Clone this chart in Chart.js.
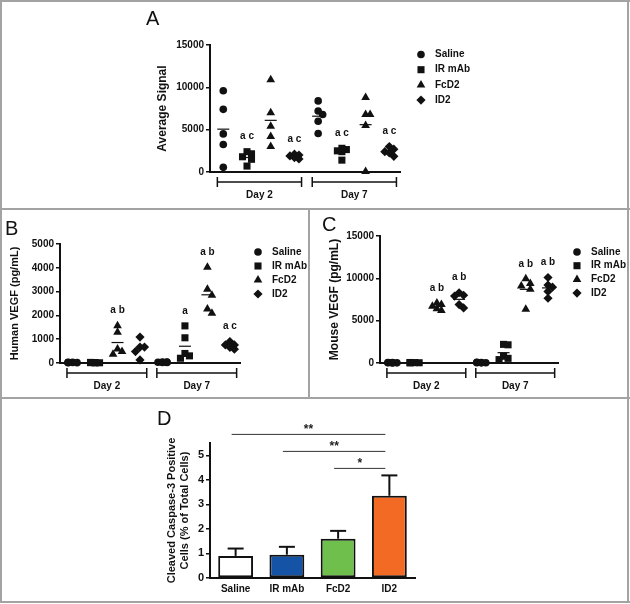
<!DOCTYPE html>
<html lang="en">
<head>
<meta charset="UTF-8" />
<title>VEGF and cleaved caspase-3 panels</title>
<script src="https://cdn.jsdelivr.net/npm/chart.js"></script>
<style>
  body { margin: 0; background: #fff; }
  #fig { position: relative; width: 630px; height: 604px; overflow: hidden; background: #fff; }
  #fig canvas { position: absolute; left: 0; top: 0; }
  .rule { position: absolute; background: #a3a3a3; }
  .tag { position: absolute; font: 20px 'Liberation Sans', Arial, sans-serif; color: #111; line-height: 1; }
</style>
</head>
<body>
<div id="fig">
  <!-- panel frame -->
  <div class="rule" style="left:0;top:0;width:630px;height:2px"></div>
  <div class="rule" style="left:0;top:601px;width:630px;height:2px"></div>
  <div class="rule" style="left:0;top:0;width:2px;height:603px"></div>
  <div class="rule" style="left:627px;top:0;width:2px;height:603px"></div>
  <div class="rule" style="left:0;top:208px;width:630px;height:2px"></div>
  <div class="rule" style="left:308px;top:208px;width:2px;height:191px"></div>
  <div class="rule" style="left:0;top:397px;width:630px;height:2px"></div>

  <canvas id="chartA" width="630" height="604"></canvas>
  <canvas id="chartB" width="630" height="604"></canvas>
  <canvas id="chartC" width="630" height="604"></canvas>
  <canvas id="chartD" width="630" height="604"></canvas>

  <div class="tag" style="left:146px;top:8px">A</div>
  <div class="tag" style="left:5px;top:218px">B</div>
  <div class="tag" style="left:322px;top:214px">C</div>
  <div class="tag" style="left:157px;top:408px">D</div>
</div>

<script>
// ---- data ----
const groupLabels = ['Day 2', 'Day 7'];
const seriesNames = ['Saline', 'IR mAb', 'FcD2', 'ID2'];

// panel A, average signal: [Day 2 values, Day 7 values]
const aSaline = [[9600, 7400, 4500, 3250, 550], [8400, 7200, 6800, 6000, 4550]];
const aIrMab  = [[2400, 2150, 1800, 1500, 700], [2800, 2650, 2500, 2400, 1400]];
const aFcD2   = [[10900, 7000, 5400, 4200, 3000], [8800, 6800, 6800, 5500, 50]];
const aId2    = [[2100, 2000, 1900, 1700, 1550], [3000, 2700, 2400, 2250, 1850]];
const aLetters = [['', ''], ['a c', 'a c'], ['', ''], ['a c', 'a c']];

// panel B, human VEGF (pg/mL)
const bSaline = [[25, 15, 30, 10, 20], [40, 25, 30, 20, 35]];
const bIrMab  = [[20, 10, 25, 15, 5], [1560, 1060, 400, 300, 200]];
const bFcD2   = [[1570, 1290, 590, 480, 370], [4020, 3100, 2850, 2270, 2090]];
const bId2    = [[1090, 670, 670, 480, 130], [900, 760, 760, 660, 580]];
const bLetters = [['', ''], ['', 'a'], ['a b', 'a b'], ['', 'a c']];

// panel C, mouse VEGF (pg/mL)
const cSaline = [[40, 20, 60, 30, 10], [60, 30, 80, 40, 20]];
const cIrMab  = [[50, 30, 60, 20, 40], [2200, 2150, 800, 550, 400]];
const cFcD2   = [[7100, 6900, 6700, 6400, 6200], [9950, 9400, 9100, 8700, 6350]];
const cId2    = [[8300, 8000, 7900, 6900, 6500], [10100, 9200, 8950, 8450, 7650]];
const cLetters = [['', ''], ['', ''], ['a b', 'a b'], ['a b', 'a b']];

// panel D, cleaved caspase-3 positive cells (% of total)
const dLabels = ['Saline', 'IR mAb', 'FcD2', 'ID2'];
const dMeans  = [0.9, 0.95, 1.6, 3.35];
const dErrors = [0.3, 0.32, 0.32, 0.83];
const dSigPairs = [[0, 3], [1, 3], [2, 3]];
const dSigMarks = ['**', '**', '*'];

// ---- styling ----
const INK = '#111';
const FONT = "'Liberation Sans', Arial, sans-serif";
const barColors = ['#ffffff', '#1553a6', '#6fbf4c', '#f26a24'];
const markerStyles = ['circle', 'rect', 'triangle', 'rectRot'];
const markerRadius = [3.8, 5, 5, 4.6];
const X_MIN = -0.56, X_MAX = 7.45;

Chart.defaults.font.family = FONT;
Chart.defaults.font.weight = 'bold';
Chart.defaults.color = INK;
Chart.defaults.animation = false;

function slot(s, g) { return g * 4 + s; }   // x position of series s in group g

function drawMarker(ctx, s, x, y) {
  ctx.fillStyle = INK;
  Chart.helpers.drawPoint(ctx, { pointStyle: markerStyles[s], radius: markerRadius[s], rotation: 0, borderWidth: 0 }, x, y);
}

// spread points with close values a little sideways, like a scatter dot plot
function swarm(vals, pxPerY, pxPerX) {
  const tries = [0, 4.5, -4.5];
  const placed = [];
  return vals.map(v => {
    const py = v * pxPerY;
    let best = 0, bestD = -1;
    for (const dx of tries) {
      const d = Math.min(Infinity, ...placed.map(p => Math.hypot(p.dx - dx, p.py - py)));
      if (d >= 6) { best = dx; break; }
      if (d > bestD) { bestD = d; best = dx; }
    }
    placed.push({ dx: best, py });
    return best / pxPerX;
  });
}

function line(ctx, x0, y0, x1, y1) {
  ctx.beginPath(); ctx.moveTo(x0, y0); ctx.lineTo(x1, y1); ctx.stroke();
}

function buildScatter(id, cfg) {
  const box = cfg.box;
  const pxPerY = (box.bottom - box.top) / cfg.yMax;
  const pxPerX = (box.right - box.left) / (X_MAX - X_MIN);
  const titleLH = cfg.titleSize * 1.2;
  const yWidth = box.left - cfg.titleX + titleLH / 2;

  const datasets = seriesNames.map((name, s) => {
    const pts = [];
    cfg.series[s].forEach((vals, g) => {
      const offs = swarm(vals, pxPerY, pxPerX);
      vals.forEach((v, i) => pts.push({ x: slot(s, g) + offs[i], y: v }));
    });
    return {
      label: name, data: pts, clip: false,
      pointStyle: markerStyles[s], pointRadius: markerRadius[s],
      pointBackgroundColor: INK, pointBorderWidth: 0
    };
  });

  const decor = {
    id: 'decor' + id,
    afterDatasetsDraw(chart) {
      const { ctx, chartArea, scales: { x, y } } = chart;
      ctx.save();
      ctx.strokeStyle = INK;
      ctx.fillStyle = INK;
      ctx.font = 'bold 10px ' + FONT;
      ctx.textAlign = 'center';
      ctx.textBaseline = 'middle';

      // mean lines and significance letters
      cfg.series.forEach((groups, s) => groups.forEach((vals, g) => {
        const cx = x.getPixelForValue(slot(s, g));
        const mean = vals.reduce((a, b) => a + b, 0) / vals.length;
        const my = y.getPixelForValue(mean);
        ctx.lineWidth = 1.2;
        line(ctx, cx - 6, my, cx + 6, my);
        const txt = cfg.letters[s][g];
        if (txt) ctx.fillText(txt, cx, y.getPixelForValue(Math.max(...vals)) - 15);
      }));

      // day brackets under the axis
      ctx.lineWidth = 1.5;
      groupLabels.forEach((lab, g) => {
        const x0 = x.getPixelForValue(slot(0, g) - 0.25);
        const x1 = x.getPixelForValue(slot(3, g) + 0.3);
        const by = chartArea.bottom + 10;
        line(ctx, x0, by, x1, by);
        line(ctx, x0, by - 5, x0, by + 5);
        line(ctx, x1, by - 5, x1, by + 5);
        ctx.fillText(lab, (x0 + x1) / 2, by + 13);
      });

      // legend
      ctx.textAlign = 'left';
      seriesNames.forEach((name, s) => {
        const ly = cfg.legend.y + s * cfg.legend.step;
        drawMarker(ctx, s, cfg.legend.x, ly);
        ctx.fillStyle = INK;
        ctx.fillText(name, cfg.legend.x + 14, ly);
      });
      ctx.restore();
    }
  };

  return new Chart(document.getElementById(id), {
    type: 'scatter',
    data: { datasets },
    options: {
      responsive: false,
      layout: { padding: { left: box.left - yWidth, top: box.top, right: 630 - box.right, bottom: 604 - box.bottom } },
      plugins: { legend: { display: false }, tooltip: { enabled: false } },
      scales: {
        x: {
          type: 'linear', min: X_MIN, max: X_MAX,
          grid: { display: false }, ticks: { display: false },
          border: { color: INK, width: 2 },
          afterFit(sc) { sc.height = 0; }
        },
        y: {
          min: 0, max: cfg.yMax,
          ticks: { stepSize: cfg.yStep, padding: 2, font: { size: 10, weight: 'bold' }, color: INK, callback: v => String(v) },
          grid: { display: true, drawOnChartArea: false, tickLength: 4, color: INK, lineWidth: 1.5 },
          border: { color: INK, width: 2 },
          title: { display: true, text: cfg.yTitle, padding: 0, color: INK, font: { size: cfg.titleSize, weight: 'bold' } },
          afterFit(sc) { sc.width = yWidth; }
        }
      }
    },
    plugins: [decor]
  });
}

buildScatter('chartA', {
  box: { left: 210, right: 400, top: 45, bottom: 172 },
  yMax: 15000, yStep: 5000, yTitle: 'Average Signal', titleX: 163, titleSize: 12,
  series: [aSaline, aIrMab, aFcD2, aId2], letters: aLetters,
  legend: { x: 421, y: 54.5, step: 15.2 }
});

buildScatter('chartB', {
  box: { left: 60, right: 240, top: 244, bottom: 363 },
  yMax: 5000, yStep: 1000, yTitle: 'Human VEGF (pg/mL)', titleX: 15, titleSize: 11,
  series: [bSaline, bIrMab, bFcD2, bId2], letters: bLetters,
  legend: { x: 258, y: 252, step: 14 }
});

buildScatter('chartC', {
  box: { left: 380, right: 558, top: 236, bottom: 363 },
  yMax: 15000, yStep: 5000, yTitle: 'Mouse VEGF (pg/mL)', titleX: 335, titleSize: 12,
  series: [cSaline, cIrMab, cFcD2, cId2], letters: cLetters,
  legend: { x: 577, y: 252, step: 13.7 }
});

// ---- panel D: bar chart with upper error bars and comparison lines ----
const dBox = { left: 210, right: 415, top: 443, bottom: 578 };
const dTitleLH = 11 * 1.2;
const dYWidth = dBox.left - 172 + dTitleLH / 2;

const dDecor = {
  id: 'dDecor',
  afterDatasetsDraw(chart) {
    const { ctx, scales: { y } } = chart;
    const bars = chart.getDatasetMeta(0).data;
    ctx.save();
    ctx.strokeStyle = INK;

    // upper error bars
    ctx.lineWidth = 2;
    bars.forEach((bar, i) => {
      const y0 = y.getPixelForValue(dMeans[i]);
      const y1 = y.getPixelForValue(dMeans[i] + dErrors[i]);
      line(ctx, bar.x, y0, bar.x, y1);
      line(ctx, bar.x - 8, y1, bar.x + 8, y1);
    });

    // comparison lines stacked above the tallest whisker
    const peak = Math.min(...dMeans.map((m, i) => y.getPixelForValue(m + dErrors[i])));
    ctx.lineWidth = 1;
    ctx.strokeStyle = '#333';
    ctx.fillStyle = '#222';
    ctx.font = 'bold 12px ' + FONT;
    ctx.textAlign = 'center';
    ctx.textBaseline = 'alphabetic';
    dSigPairs.forEach(([a, b], i) => {
      const level = dSigPairs.length - 1 - i;
      const ly = peak - 7 - level * 17;
      const xa = bars[a].x - 4, xb = bars[b].x - 4;
      line(ctx, xa, ly, xb, ly);
      ctx.fillText(dSigMarks[i], (xa + xb) / 2, ly - 1);
    });
    ctx.restore();
  }
};

new Chart(document.getElementById('chartD'), {
  type: 'bar',
  data: {
    labels: dLabels,
    datasets: [{
      data: dMeans,
      backgroundColor: barColors,
      borderColor: INK,
      borderWidth: 2,
      borderSkipped: false,
      barPercentage: 0.68,
      categoryPercentage: 1
    }]
  },
  options: {
    responsive: false,
    layout: { padding: { left: dBox.left - dYWidth, top: dBox.top, right: 630 - dBox.right, bottom: 604 - dBox.bottom - 20 } },
    plugins: { legend: { display: false }, tooltip: { enabled: false } },
    scales: {
      x: {
        grid: { display: false },
        border: { color: INK, width: 2 },
        ticks: { font: { size: 10, weight: 'bold' }, color: INK, padding: -3 },
        afterFit(sc) { sc.height = 20; }
      },
      y: {
        min: 0, max: 5.5,
        ticks: { stepSize: 1, includeBounds: false, padding: 2, font: { size: 11, weight: 'bold' }, color: INK },
        grid: { display: true, drawOnChartArea: false, tickLength: 4, color: INK, lineWidth: 1.5 },
        border: { color: INK, width: 2 },
        title: { display: true, text: ['Cleaved Caspase-3 Positive', 'Cells (% of Total Cells)'], padding: 0, color: INK, font: { size: 11, weight: 'bold' } },
        afterFit(sc) { sc.width = dYWidth; }
      }
    }
  },
  plugins: [dDecor]
});
</script>
</body>
</html>
